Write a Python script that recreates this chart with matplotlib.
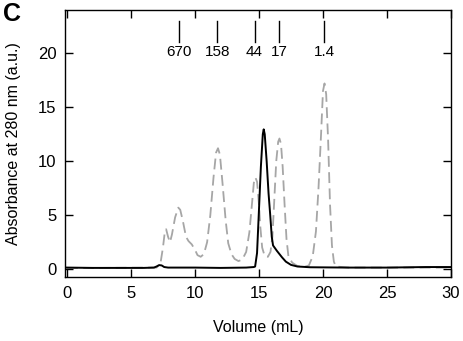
import matplotlib
matplotlib.use("Agg")
import matplotlib.pyplot as plt

plt.rcParams['font.family'] = ['Liberation Sans', 'DejaVu Sans']

# Standards (molecular weight markers, kDa) and their elution volumes
marker_labels = ["670", "158", "44", "17", "1.4"]
marker_volumes = [8.77, 11.74, 14.66, 16.6, 20.08]

# Grey dashed trace: calibration standards
std_volume = [0.0, 7.0, 7.3, 7.5, 7.65, 7.75, 7.9, 8.05, 8.2, 8.45, 8.7, 8.85, 9.05, 9.3,
              9.5, 9.75, 10.0, 10.2, 10.45, 10.7, 10.95, 11.2, 11.45, 11.65, 11.8, 11.95,
              12.15, 12.4, 12.6, 12.85, 13.1, 13.4, 13.7, 14.0, 14.25, 14.45, 14.6, 14.72,
              14.85, 15.0, 15.1, 15.25, 15.45, 15.7, 15.9, 16.05, 16.2, 16.35, 16.5, 16.6,
              16.72, 16.85, 17.0, 17.15, 17.3, 17.6, 18.0, 18.5, 18.9, 19.2, 19.45, 19.65,
              19.85, 20.0, 20.12, 20.25, 20.4, 20.55, 20.7, 20.85, 21.0, 22.0, 30.0]
std_abs = [0.1, 0.15, 0.5, 2.0, 3.5, 3.7, 3.0, 2.5, 3.2, 4.8, 5.7, 5.5, 4.5, 3.0,
           2.6, 2.3, 1.8, 1.3, 1.15, 1.4, 2.5, 5.0, 8.5, 10.8, 11.2, 10.6,
           8.0, 4.5, 2.4, 1.4, 0.95, 0.75, 0.9, 1.6, 3.4, 6.0, 8.0, 8.5,
           8.1, 6.0, 4.0, 2.0, 1.2, 1.15, 1.6, 3.0, 6.5, 10.0, 11.8, 12.1,
           11.6, 9.5, 6.0, 2.8, 1.2, 0.6, 0.3, 0.2, 0.35, 1.2, 3.5, 7.5,
           12.5, 16.5, 17.2, 16.2, 12.0, 6.0, 2.2, 0.7, 0.25, 0.15, 0.15]

# Black solid trace: sample
smp_volume = [0.0, 2.0, 4.0, 6.0, 6.8, 7.0, 7.2, 7.4, 7.6, 7.9, 10.0, 12.0, 14.0, 14.6,
              14.7, 14.85, 15.0, 15.15, 15.3, 15.37, 15.45, 15.6, 15.75, 15.88, 16.0,
              16.1, 16.4, 16.8, 17.1, 17.5, 18.0, 19.0, 22.0, 25.0, 28.0, 30.0]
smp_abs = [0.15, 0.12, 0.12, 0.12, 0.15, 0.25, 0.38, 0.35, 0.2, 0.15, 0.15, 0.12, 0.15, 0.2,
           0.25, 1.5, 5.5, 9.5, 12.5, 12.95, 12.5, 10.0, 7.0, 5.0, 3.0,
           2.2, 1.7, 1.1, 0.7, 0.4, 0.25, 0.18, 0.15, 0.15, 0.2, 0.2]

fig = plt.figure(figsize=(4.64, 3.41), dpi=100)
ax = fig.add_axes([0.1401, 0.1868, 0.972 - 0.1401, 0.9707 - 0.1868])

ax.plot(std_volume, std_abs, color="#a6a6a6", lw=1.3, dashes=(6, 3))
ax.plot(smp_volume, smp_abs, color="black", lw=1.4)

for lab, v in zip(marker_labels, marker_volumes):
    ax.plot([v, v], [21.0, 22.95], color="black", lw=1.0)
    ax.text(v, 20.1, lab, ha="center", va="center", fontsize=11)

ax.set_xlim(-0.15, 30)
ax.set_ylim(-0.75, 24)
ax.set_xticks([0, 5, 10, 15, 20, 25, 30])
ax.set_yticks([0, 5, 10, 15, 20])
ax.tick_params(direction="in", length=6, width=1.0, top=True, right=True,
               labelsize=12, pad=6)
for s in ax.spines.values():
    s.set_linewidth(1.0)

ax.set_xlabel("Volume (mL)", fontsize=11.5, labelpad=14)
ax.set_ylabel("Absorbance at 280 nm (a.u.)", fontsize=11.5, labelpad=12)

fig.text(0.006, 0.995, "C", fontsize=18, fontweight="bold", ha="left", va="top")

fig.savefig("out.png", dpi=100)
